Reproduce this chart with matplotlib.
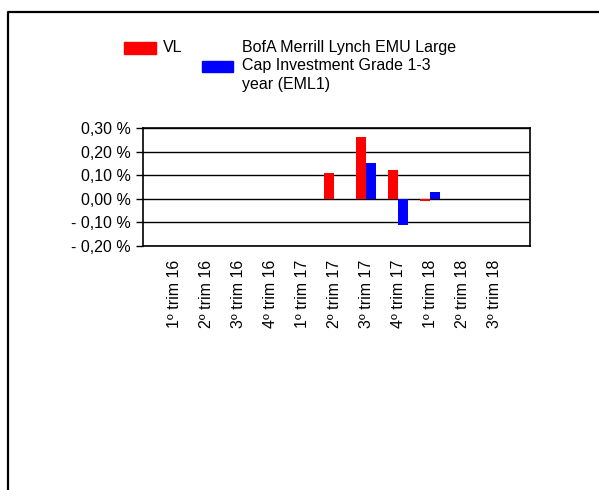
import numpy as np
import matplotlib
matplotlib.use("Agg")
from matplotlib import pyplot as plt
from matplotlib.patches import Rectangle
from matplotlib.lines import Line2D

plt.rcParams['font.family'] = ['Liberation Sans', 'DejaVu Sans']

# data
quarters = ["1º trim 16", "2º trim 16", "3º trim 16", "4º trim 16", "1º trim 17",
            "2º trim 17", "3º trim 17", "4º trim 17", "1º trim 18", "2º trim 18", "3º trim 18"]
vl = [np.nan, np.nan, np.nan, np.nan, np.nan, 0.11, 0.26, 0.12, -0.008, np.nan, np.nan]
eml1 = [np.nan, np.nan, np.nan, np.nan, np.nan, np.nan, 0.15, -0.11, 0.03, np.nan, np.nan]
yticks = [-0.20, -0.10, 0.00, 0.10, 0.20, 0.30]
ytick_labels = ["- 0,20 %", "- 0,10 %", "0,00 %", "0,10 %", "0,20 %", "0,30 %"]

W, H = 599, 490
fs = 11.5
fig = plt.figure(figsize=(W / 100, H / 100), dpi=100)

# outer frame (only top-left visible)
fig.add_artist(Line2D([8 / W, 8 / W, 1.0], [0.0, 1 - 12 / H, 1 - 12 / H],
                      color='black', lw=1.6, transform=fig.transFigure))

ax = fig.add_axes([143 / W, 1 - 246 / H, (530 - 143) / W, (246 - 128) / H])
x = np.arange(len(quarters))
bw = 0.31
ax.bar(x - bw / 2, vl, width=bw, color='#ff0000', zorder=3)
ax.bar(x + bw / 2, eml1, width=bw, color='#0000ff', zorder=3)

ax.set_xlim(-0.97, 11.12)
ax.set_ylim(-0.20, 0.30)
ax.set_yticks(yticks)
ax.set_yticklabels(ytick_labels, fontsize=fs)
ax.yaxis.grid(True, color='black', lw=1.0, zorder=1)
ax.tick_params(axis='y', length=5, width=1, pad=4)
ax.set_xticks(x)
ax.set_xticklabels(quarters, rotation=90, fontsize=fs, va='top')
ax.tick_params(axis='x', length=0, pad=10)
for s in ax.spines.values():
    s.set_color('black')
    s.set_linewidth(1.2)

# legend drawn by hand
fig.add_artist(Rectangle((124 / W, 1 - 54 / H), 32 / W, 12 / H, color='#ff0000',
                         transform=fig.transFigure))
fig.text(163 / W, 1 - 48 / H, "VL", fontsize=fs, va='center')
fig.add_artist(Rectangle((202 / W, 1 - 72 / H), 31 / W, 11 / H, color='#0000ff',
                         transform=fig.transFigure))
fig.text(242 / W, 1 - 40 / H, "BofA Merrill Lynch EMU Large\nCap Investment Grade 1-3\nyear (EML1)",
         fontsize=fs, va='top', linespacing=1.28)

fig.savefig("out.png", dpi=100)
